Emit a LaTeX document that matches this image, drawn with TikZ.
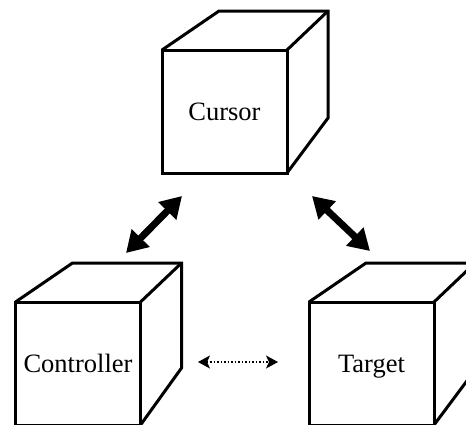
\documentclass[tikz,border=0pt]{standalone}
\usepackage{fontspec}
\setmainfont{Liberation Serif}
\usetikzlibrary{arrows.meta}
\tikzset{
  face/.style={draw, line width=3pt, minimum width=125pt, minimum height=123pt,
    inner sep=0pt, outer sep=0pt, text height=18pt, text depth=0pt,
    font=\fontsize{26.5}{30}\selectfont},
  edge/.style={line width=3pt, line join=miter},
  bigarrow/.style={line width=7pt,
    {Triangle[length=21pt,width=24pt]}-{Triangle[length=21pt,width=24pt]}},
  dotarrow/.style={line width=1.5pt, dotted,
    {Stealth[length=12pt,width=13pt,inset=3pt]}-{Stealth[length=12pt,width=13pt,inset=3pt]}}
}
\begin{document}
\begin{tikzpicture}[x=1pt,y=-1pt]
\useasboundingbox (0,0) rectangle (466,424);
\clip (0,0) rectangle (466,424);
% Cursor cube
\node[face] (cursor) at (224.5,111.5) {Cursor\hspace{4pt}};
\draw[edge] (cursor.north west) -- ++(57,-39) -- ++(109,0) coordinate (cbr)
  -- ++(0,107) -- (cursor.south east);
\draw[edge] (cursor.north east) -- (cbr);
% Controller cube
\node[face] (ctrl) at (78,363.5) {Controller};
\draw[edge] (ctrl.north west) -- ++(57,-39) -- ++(109,0) coordinate (kbr)
  -- ++(0,105) -- (ctrl.south east);
\draw[edge] (ctrl.north east) -- (kbr);
% Target cube
\node[face] (target) at (371.5,363.5) {Target\hspace{10pt}};
\draw[edge] (target.north west) -- ++(57,-39) -- ++(109,0) coordinate (tbr)
  -- ++(0,107) -- (target.south east);
\draw[edge] (target.north east) -- (tbr);
% arrows
\coordinate (a1) at (126,253);
\coordinate (a2) at (182,196);
\coordinate (b1) at (312,196);
\coordinate (b2) at (370,251);
\coordinate (d1) at (198,362);
\coordinate (d2) at (278,362);
\draw[bigarrow] (a1) -- (a2);
\draw[bigarrow] (b1) -- (b2);
\draw[dotarrow] (d1) -- (d2);
\end{tikzpicture}
\end{document}
